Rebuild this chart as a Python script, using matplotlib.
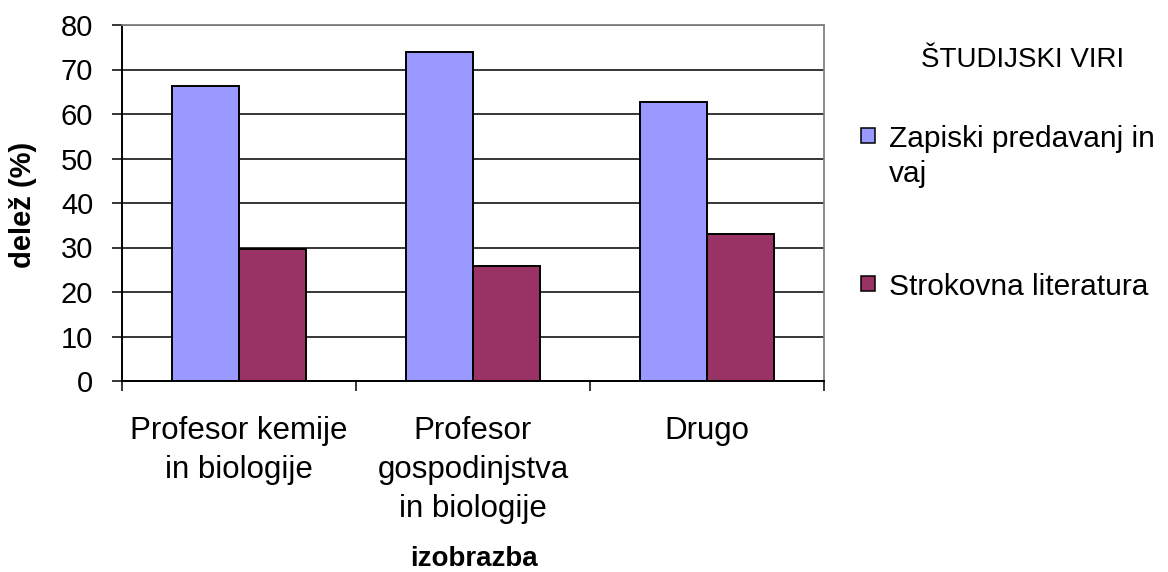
import matplotlib
matplotlib.use("Agg")
import matplotlib.pyplot as plt
from matplotlib.patches import Rectangle
import numpy as np

# Data
categories = ["Profesor kemije\nin biologije",
              "Profesor\ngospodinjstva\nin biologije",
              "Drugo"]
series_names = ["Zapiski predavanj in\nvaj", "Strokovna literatura"]
zapiski = [66.3, 73.9, 62.8]
strokovna = [29.6, 25.9, 33.1]
yticks = [0, 10, 20, 30, 40, 50, 60, 70, 80]
legend_title = "ŠTUDIJSKI VIRI"
xlabel = "izobrazba"
ylabel = "delež (%)"
colors = ["#9999FF", "#993366"]

plt.rcParams["font.family"] = ["Liberation Sans", "DejaVu Sans"]

W, H = 1168, 572
fig = plt.figure(figsize=(W / 100, H / 100), dpi=100)
ax = fig.add_axes([122 / W, 1 - 381 / H, 702 / W, 356 / H])

x = np.arange(len(categories))
w = 0.286
ax.bar(x - w / 2, zapiski, w, color=colors[0], edgecolor="black", linewidth=1.4, zorder=2)
ax.bar(x + w / 2, strokovna, w, color=colors[1], edgecolor="black", linewidth=1.4, zorder=2)

ax.set_xlim(-0.5, len(categories) - 0.5)
ax.set_ylim(0, 80)
ax.set_yticks(yticks)
ax.yaxis.grid(True, color="black", linewidth=1.1)
ax.set_axisbelow(True)
ax.tick_params(axis="y", direction="out", length=7.2, width=1.1, labelsize=21, pad=13.5)

ax.set_xticks(x, categories)
ax.set_xticks(np.arange(-0.5, len(categories), 1), minor=True)
ax.tick_params(axis="x", which="major", length=0, labelsize=22.5, pad=25)
ax.tick_params(axis="x", which="minor", direction="out", length=7.2, width=1.1)
for lbl in ax.get_xticklabels():
    lbl.set_linespacing(1.4)

for side in ("top", "right"):
    ax.spines[side].set_color("#808080")
    ax.spines[side].set_linewidth(1.3)
for side in ("left", "bottom"):
    ax.spines[side].set_color("black")
    ax.spines[side].set_linewidth(1.4)

ax.set_xlabel(xlabel, fontsize=20, fontweight="bold")
ax.xaxis.label.set_va("baseline")
ax.xaxis.set_label_coords(0.501, (381 - 566) / 356)
ax.set_ylabel(ylabel, fontsize=21, fontweight="bold")
ax.yaxis.label.set_va("center")
ax.yaxis.set_label_coords((23.5 - 122) / 702, (381 - 204.5) / 356)

# Legend drawn beside the plot area
fig.text(1023 / W, 1 - 67 / H, legend_title, ha="center", va="baseline", fontsize=20)
box_tops = [128, 276]
text_baselines = [182, 295]   # baseline of each label's last line
for name, col, top, base in zip(series_names, colors, box_tops, text_baselines):
    fig.patches.append(Rectangle((861 / W, 1 - (top + 15) / H), 14 / W, 15 / H,
                                 transform=fig.transFigure, facecolor=col,
                                 edgecolor="black", linewidth=1.1))
    fig.text(889 / W, 1 - base / H, name, ha="left", va="baseline",
             fontsize=21.5, linespacing=1.3)

fig.savefig("out.png", dpi=100)
